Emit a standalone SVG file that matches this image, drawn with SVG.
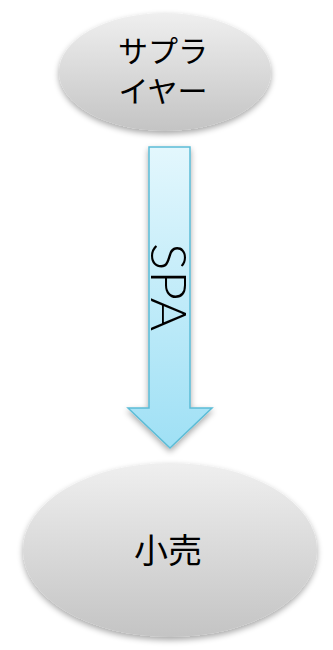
<svg xmlns="http://www.w3.org/2000/svg" width="333" height="650" viewBox="0 0 333 650">
<defs>
<linearGradient id="gray" x1="0" y1="0" x2="0" y2="1">
<stop offset="0" stop-color="#efefef"/>
<stop offset="1" stop-color="#c4c4c4"/>
</linearGradient>
<linearGradient id="cyan" x1="0" y1="0" x2="0" y2="1">
<stop offset="0" stop-color="#e3f7fd"/>
<stop offset="1" stop-color="#9fe0f5"/>
</linearGradient>
<filter id="sh" x="-20%" y="-20%" width="140%" height="150%">
<feGaussianBlur in="SourceAlpha" stdDeviation="3"/>
<feOffset dx="0" dy="3" result="b"/>
<feComponentTransfer><feFuncA type="linear" slope="0.35"/></feComponentTransfer>
<feMerge><feMergeNode/><feMergeNode in="SourceGraphic"/></feMerge>
</filter>
</defs>
<style>
.node{fill:url(#gray);filter:url(#sh)}
.lbl{font-family:"Noto Sans CJK JP","Liberation Sans",sans-serif;font-weight:400;fill:#000;text-anchor:middle}
</style>
<g id="supplier">
<ellipse class="node" cx="165" cy="72" rx="106" ry="59"/>
<text class="lbl" x="163" y="62" font-size="30">サプラ</text>
<text class="lbl" x="163" y="102" font-size="30">イヤー</text>
</g>
<g id="connectors">
<path d="M149 147 H190 V408 H212 L170 448 L128 408 H149 Z" fill="url(#cyan)" stroke="#5bbcd6" stroke-width="1.5" filter="url(#sh)"/>
<text transform="translate(151,243) rotate(90)" x="0" y="0" font-family="Lato, 'Liberation Sans', sans-serif" font-weight="300" font-size="50" textLength="88" lengthAdjust="spacingAndGlyphs" fill="#000">SPA</text>
</g>
<g id="retail">
<ellipse class="node" cx="170" cy="550" rx="147" ry="87"/>
<text class="lbl" x="168" y="563" font-size="34">小売</text>
</g>
</svg>
